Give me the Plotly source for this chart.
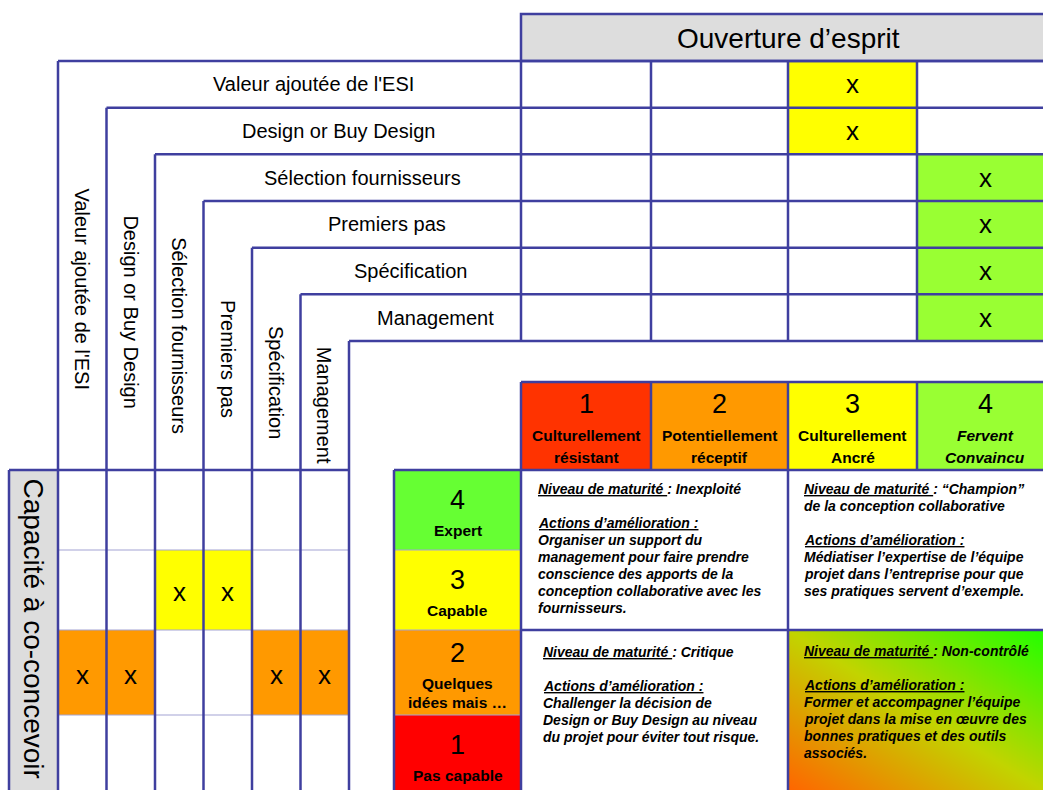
import plotly.graph_objects as go

# ---------------- data ----------------
categories = [
    "Valeur ajoutée de l'ESI",
    "Design or Buy Design",
    "Sélection fournisseurs",
    "Premiers pas",
    "Spécification",
    "Management",
]
ouverture_level = [3, 3, 4, 4, 4, 4]   # score "Ouverture d'esprit" (1-4)
capacite_level = [2, 2, 3, 3, 2, 2]    # score "Capacité à co-concevoir" (1-4)

ouverture_title = "Ouverture d’esprit"
capacite_title = "Capacité à co-concevoir"

ouverture_numbers = ["1", "2", "3", "4"]
ouverture_names = [["Culturellement", "résistant"], ["Potentiellement", "réceptif"],
                   ["Culturellement", "Ancré"], ["<i>Fervent</i>", "<i>Convaincu</i>"]]
ouverture_colors = ["#FF3300", "#FF9900", "#FFFF00", "#99FF33"]

capacite_numbers = ["1", "2", "3", "4"]
capacite_names = [["Pas capable"], ["Quelques", "idées mais …"], ["Capable"], ["Expert"]]
capacite_colors = ["#FF0000", "#FF9900", "#FFFF00", "#66FF33"]

text_low_ouv_high_cap = ["<u>Niveau de maturité </u>: Inexploité", "",
                         "<u>Actions d’amélioration :</u>", "Organiser un support du",
                         "management pour faire prendre", "conscience des apports de la",
                         "conception collaborative avec les", "fournisseurs."]
text_high_ouv_high_cap = ["<u>Niveau de maturité </u>: “Champion”", "de la conception collaborative", "",
                          "<u>Actions d’amélioration :</u>", "Médiatiser l’expertise de l’équipe",
                          "projet dans l’entreprise pour que", "ses pratiques servent d’exemple."]
text_low_ouv_low_cap = ["<u>Niveau de maturité </u>: Critique", "",
                        "<u>Actions d’amélioration :</u>", "Challenger la décision de",
                        "Design or Buy Design au niveau", "du projet pour éviter tout risque."]
text_high_ouv_low_cap = ["<u>Niveau de maturité </u>: Non-contrôlé", "",
                         "<u>Actions d’amélioration :</u>", "Former et accompagner l’équipe",
                         "projet dans la mise en œuvre des", "bonnes pratiques et des outils",
                         "associés."]

# gradient corners for the "non-contrôlé" quadrant (style)
grad_z = [[1, 2], [0, 1]]
grad_colors = [[0, "#FF6600"], [0.5, "#C2D400"], [1, "#22FF00"]]

# ---------------- geometry (layout, in page pixels) ----------------
W, H = 1043, 790
FONT = "Liberation Sans, Arial, sans-serif"
LINE = "#3F3F9F"
THIN = "#A3A3D3"
LW = 2.5
BOTTOM = 805
RIGHT = 1060

X0, DX = 58, 48.5          # nested L columns
Y0, DY = 61, 46.67         # nested L rows
n = len(categories)
xs = [X0 + DX * i for i in range(n + 1)]
ys = [Y0 + DY * i for i in range(n + 1)]

col_edges = [521, 651, 788, 917, 1053]          # ouverture columns 1..4
row_edges = {4: (470, 550), 3: (550, 630), 2: (630, 715), 1: (715, BOTTOM)}  # capacité rows
LEVEL_X = (394, 521)
HEAD_Y = (382, 470)

shapes = []
ann = []


def rect(x0, y0, x1, y1, fill=None, line=None, width=LW):
    shapes.append(dict(type="rect", xref="x", yref="y", x0=x0, y0=y0, x1=x1, y1=y1,
                       fillcolor=fill if fill else "rgba(0,0,0,0)",
                       line=dict(color=line if line else "rgba(0,0,0,0)", width=width if line else 0),
                       layer="above"))


def seg(x0, y0, x1, y1, color=LINE, width=LW):
    shapes.append(dict(type="line", xref="x", yref="y", x0=x0, y0=y0, x1=x1, y1=y1,
                       line=dict(color=color, width=width), layer="above"))


def text(x, y, s, size, angle=0, anchor="center", color="black"):
    ann.append(dict(x=x, y=y, xref="x", yref="y", text=s, showarrow=False,
                    xanchor=anchor, yanchor="middle", textangle=angle,
                    font=dict(family=FONT, size=size, color=color)))


fig = go.Figure()

# gradient quadrant (high ouverture / low capacité)
fig.add_trace(go.Heatmap(z=grad_z, x=[788, 1043], y=[630, 790], zmin=0, zmax=2,
                         colorscale=grad_colors, zsmooth="best", showscale=False,
                         hoverinfo="skip"))

# ---------------- fills ----------------
rect(col_edges[0], 14, RIGHT, Y0, fill="#DDDDDD")
for i, lvl in enumerate(ouverture_level):
    rect(col_edges[lvl - 1], ys[i], col_edges[lvl], ys[i + 1], fill=ouverture_colors[lvl - 1])
for i, lvl in enumerate(capacite_level):
    r0, r1 = row_edges[lvl]
    rect(xs[i], r0, xs[i + 1], r1, fill=capacite_colors[lvl - 1])
rect(9, 470, X0, BOTTOM, fill="#DDDDDD")
for lvl in range(1, 5):
    r0, r1 = row_edges[lvl]
    rect(LEVEL_X[0], r0, LEVEL_X[1], r1, fill=capacite_colors[lvl - 1])
for c in range(4):
    x1 = col_edges[c + 1] if c < 3 else RIGHT
    rect(col_edges[c], HEAD_Y[0], x1, HEAD_Y[1], fill=ouverture_colors[c])
# white quadrants
rect(521, 470, 788, 630, fill="white")
rect(788, 470, RIGHT, 630, fill="white")
rect(521, 630, 788, BOTTOM, fill="white")

# ---------------- thin lines ----------------
for lvl in (3, 2, 1):
    y = row_edges[lvl][0]
    seg(X0, y, xs[-1], y, color=THIN, width=1.2)
    if lvl != 2:
        seg(LEVEL_X[0], y, LEVEL_X[1], y, color=THIN, width=1.2)
seg(LEVEL_X[0], 630, LEVEL_X[1], 630, color=THIN, width=1.2)

# ---------------- thick lines ----------------
rect(col_edges[0], 14, RIGHT, Y0, line=LINE)
for i in range(n + 1):
    seg(xs[i], ys[i], RIGHT, ys[i])
    seg(xs[i], ys[i], xs[i], BOTTOM)
for x in col_edges[:4]:
    seg(x, Y0, x, ys[-1])
seg(9, 470, xs[-1], 470)
seg(9, 470, 9, BOTTOM)
seg(LEVEL_X[0], 470, LEVEL_X[1], 470)
seg(LEVEL_X[0], 470, LEVEL_X[0], BOTTOM)
seg(col_edges[0], HEAD_Y[0], RIGHT, HEAD_Y[0])
seg(col_edges[0], HEAD_Y[1], RIGHT, HEAD_Y[1])
for x in col_edges[:4]:
    seg(x, HEAD_Y[0], x, HEAD_Y[1])
seg(521, 470, 521, BOTTOM)
seg(788, 470, 788, BOTTOM)
seg(521, 630, RIGHT, 630)

# ---------------- texts ----------------
text(788, 38, ouverture_title, 28)
for i, name in enumerate(categories):
    text((xs[i + 1] + col_edges[0]) / 2, (ys[i] + ys[i + 1]) / 2, name, 20)
    text((xs[i] + xs[i + 1]) / 2, (ys[i + 1] + 470) / 2, name, 20, angle=90)
for i, lvl in enumerate(ouverture_level):
    text((col_edges[lvl - 1] + col_edges[lvl]) / 2, (ys[i] + ys[i + 1]) / 2, "x", 26)
for i, lvl in enumerate(capacite_level):
    r0, r1 = row_edges[lvl]
    text((xs[i] + xs[i + 1]) / 2, (r0 + min(r1, 795)) / 2 + 2, "x", 26)
text(33.5, 628, capacite_title, 28, angle=90)

for c in range(4):
    cx = (col_edges[c] + col_edges[c + 1]) / 2
    text(cx, 404, ouverture_numbers[c], 27)
    text(cx, 435, "<b>" + ouverture_names[c][0] + "</b>", 15.5)
    text(cx, 457, "<b>" + ouverture_names[c][1] + "</b>", 15.5)

lx = (LEVEL_X[0] + LEVEL_X[1]) / 2
for lvl in range(1, 5):
    top = row_edges[lvl][0]
    names = capacite_names[lvl - 1]
    if len(names) == 1:
        text(lx, top + 30, capacite_numbers[lvl - 1], 27)
        text(lx, top + 60, "<b>" + names[0] + "</b>", 15.5)
    else:
        text(lx, top + 23, capacite_numbers[lvl - 1], 27)
        text(lx, top + 53, "<b>" + names[0] + "</b>", 15.5)
        text(lx, top + 72, "<b>" + names[1] + "</b>", 15.5)


def block(lines, x, y0, step=17):
    for k, s in enumerate(lines):
        if s:
            text(x, y0 + k * step, "<b><i>" + s + "</i></b>", 14, anchor="left")


block(text_low_ouv_high_cap, 536, 489)
block(text_high_ouv_high_cap, 802, 489)
block(text_low_ouv_low_cap, 541, 651.5)
block(text_high_ouv_low_cap, 802, 651)

fig.update_layout(
    width=W, height=H, margin=dict(l=0, r=0, t=0, b=0),
    paper_bgcolor="white", plot_bgcolor="white",
    xaxis=dict(range=[0, W], visible=False, fixedrange=True),
    yaxis=dict(range=[H, 0], visible=False, fixedrange=True),
    shapes=shapes, annotations=ann, showlegend=False,
)
fig.write_html("out.html", config={"displayModeBar": False},
               post_script="document.body.style.margin='0';document.body.style.overflow='hidden';")
